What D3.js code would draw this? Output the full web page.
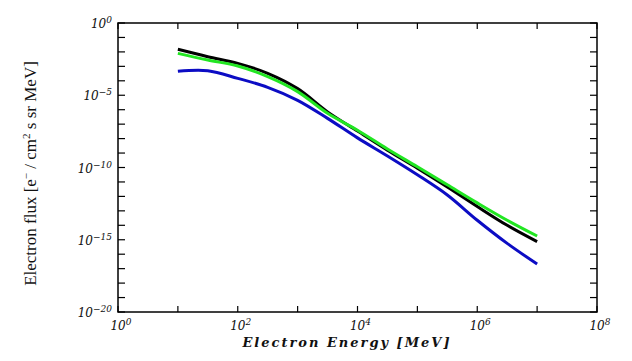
<!DOCTYPE html>
<html>
<head>
<meta charset="utf-8">
<script src="https://cdn.jsdelivr.net/npm/d3@7"></script>
<style>
  body { margin: 0; background: #fff; }
  svg { display: block; }
  .tick-label { font-family: "DejaVu Serif", serif; font-style: italic; font-size: 12px; fill: #111; }
  .axis-title { font-family: "DejaVu Serif", serif; font-style: italic; font-weight: bold; font-size: 13px; letter-spacing: 2px; fill: #111; }
  .y-title { font-family: "Liberation Serif", serif; font-size: 17px; fill: #111; }
</style>
</head>
<body>
<div id="chart" width="632" height="361"></div>
<script>
// Energy grid [MeV], half decades
var energy = [10, 31.6, 100, 316, 1000, 3160, 1e4, 3.16e4, 1e5, 3.16e5, 1e6, 3.16e6, 1e7];

// Electron flux [e- / cm2 s sr MeV]
var fluxBlack = [1.51e-2, 4.68e-3, 1.62e-3, 3.31e-4, 2.88e-5, 7.08e-7, 3.31e-8,
                 1.58e-9, 8.91e-11, 4.47e-12, 2.00e-13, 1.00e-14, 7.41e-16];
var fluxGreen = [7.94e-3, 2.75e-3, 1.05e-3, 1.95e-4, 1.78e-5, 5.62e-7, 3.80e-8,
                 1.91e-9, 1.12e-10, 6.31e-12, 3.55e-13, 2.24e-14, 1.82e-15];
var fluxBlue  = [4.57e-4, 5.01e-4, 1.48e-4, 3.55e-5, 4.47e-6, 2.51e-7, 1.12e-8,
                 6.31e-10, 3.16e-11, 1.26e-12, 2.24e-14, 5.62e-16, 2.09e-17];

// Axis ticks (decade exponents)
var xTickExp = [0, 1, 2, 3, 4, 5, 6, 7, 8];
var xLabelExp = [0, 2, 4, 6, 8];
var yTickExp = d3.range(0, -21, -1);
var yLabelExp = [0, -5, -10, -15, -20];

var width = 632, height = 361,
    margin = {left: 118, right: 35, top: 23, bottom: 49},
    innerW = width - margin.left - margin.right,
    innerH = height - margin.top - margin.bottom;

var svg = d3.select('#chart').append('svg')
    .attr('width', width)
    .attr('height', height);

var x = d3.scaleLog().domain([1, 1e8]).range([margin.left, margin.left + innerW]),
    y = d3.scaleLog().domain([1e-20, 1]).range([margin.top + innerH, margin.top]);

var g = svg.append('g');

// Ticks, all pointing inward
function tickLines(sel, vals, x1, y1, x2, y2) {
    sel.selectAll(null).data(vals).enter().append('line')
        .attr('x1', x1).attr('y1', y1).attr('x2', x2).attr('y2', y2)
        .attr('stroke', '#000').attr('stroke-width', 1.2);
}
var xVals = xTickExp.map(function (e) { return Math.pow(10, e); }),
    yVals = yTickExp.map(function (e) { return Math.pow(10, e); }),
    x0 = margin.left, x1 = margin.left + innerW,
    y0 = margin.top, y1 = margin.top + innerH;

tickLines(g, yVals, x0, function (d) { return y(d); }, x0 + 7, function (d) { return y(d); });
tickLines(g, yVals, x1, function (d) { return y(d); }, x1 - 7, function (d) { return y(d); });
tickLines(g, xVals, function (d) { return x(d); }, y1, function (d) { return x(d); }, y1 - 6);
tickLines(g, xVals, function (d) { return x(d); }, y0, function (d) { return x(d); }, y0 + 6);

// Frame
g.append('rect')
    .attr('x', x0).attr('y', y0)
    .attr('width', innerW).attr('height', innerH)
    .attr('fill', 'none').attr('stroke', '#000').attr('stroke-width', 1.5);

// Tick labels
function powLabel(t, e) {
    t.append('tspan').text('10');
    t.append('tspan').attr('dy', -5).attr('font-size', '9px')
        .text(e < 0 ? '\u2212' + (-e) : String(e));
}
g.selectAll('.ylab').data(yLabelExp).enter().append('text')
    .attr('class', 'tick-label ylab')
    .attr('x', x0 - 6)
    .attr('y', function (d) { return y(Math.pow(10, d)) + 5; })
    .attr('text-anchor', 'end')
    .each(function (d) { powLabel(d3.select(this), d); });

g.selectAll('.xlab').data(xLabelExp).enter().append('text')
    .attr('class', 'tick-label xlab')
    .attr('x', function (d) { return x(Math.pow(10, d)) + 3; })
    .attr('y', y1 + 18)
    .attr('text-anchor', 'middle')
    .each(function (d) { powLabel(d3.select(this), d); });

// Axis titles
svg.append('text')
    .attr('class', 'axis-title')
    .attr('x', 347)
    .attr('y', 347)
    .attr('text-anchor', 'middle')
    .text('Electron Energy [MeV]');

var yt = svg.append('text')
    .attr('class', 'y-title')
    .attr('transform', 'translate(36,' + ((y0 + y1) / 2 + 6) + ') rotate(-90)')
    .attr('text-anchor', 'middle');
yt.append('tspan').text('Electron flux [e');
yt.append('tspan').attr('dy', -6).attr('font-size', '11px').text('\u2212');
yt.append('tspan').attr('dy', 6).text(' / cm');
yt.append('tspan').attr('dy', -6).attr('font-size', '11px').text('2');
yt.append('tspan').attr('dy', 6).text(' s sr MeV]');

// Curves
var line = d3.line()
    .x(function (d) { return x(d[0]); })
    .y(function (d) { return y(d[1]); })
    .curve(d3.curveCatmullRom.alpha(0.5));

var series = [
    {vals: fluxBlue, color: '#0c0cc4'},
    {vals: fluxBlack, color: '#000000'},
    {vals: fluxGreen, color: '#22e622'}
];
g.selectAll('.curve').data(series).enter().append('path')
    .attr('class', 'curve')
    .attr('d', function (s) { return line(d3.zip(energy, s.vals)); })
    .attr('fill', 'none')
    .attr('stroke', function (s) { return s.color; })
    .attr('stroke-width', 3);
</script>
</body>
</html>
